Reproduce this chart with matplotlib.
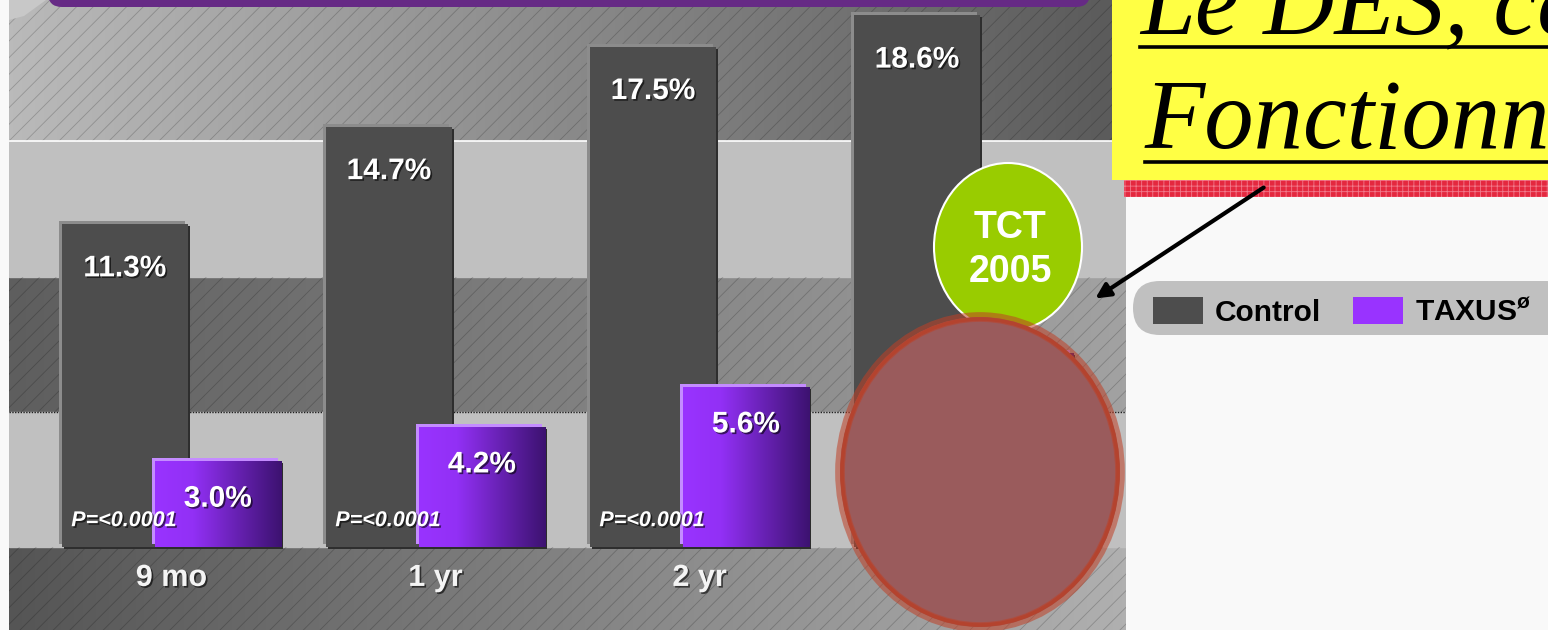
import numpy as np
import matplotlib.pyplot as plt
import matplotlib.patheffects as pe
import matplotlib.transforms as mtransforms
from matplotlib.patches import Rectangle, Ellipse, FancyBboxPatch, Polygon, Patch
from matplotlib.colors import LinearSegmentedColormap

plt.rcParams['font.family'] = ['Liberation Sans', 'DejaVu Sans']
plt.rcParams['hatch.linewidth'] = 0.6
plt.rcParams['mathtext.fontset'] = 'custom'
plt.rcParams['mathtext.rm'] = 'Liberation Sans:bold'
plt.rcParams['mathtext.bf'] = 'Liberation Sans:bold'
plt.rcParams['mathtext.default'] = 'rm'

# data
categories = ['9 mo', '1 yr', '2 yr', '3 yr']
control = [11.3, 14.7, 17.5, 18.6]
taxus = [3.0, 4.2, 5.6, 6.8]
p_values = ['P=<0.0001', 'P=<0.0001', 'P=<0.0001', 'P=<0.0001']
series_names = ['Control', 'TAXUS$^{ø}$']

W, H = 1548, 630
fig = plt.figure(figsize=(W / 100, H / 100), dpi=100, facecolor='#f9f9f9')
ax = fig.add_axes([9 / W, 0, (1126 - 9) / W, 1])
ax.set_axis_off()

x = np.arange(len(categories))
width = 0.48
shift = 0.176
xlim = (-0.615, 3.615)
ylim = (-2.9, 19.13)
step = 4.73


def band(y0, y1, c0, c1):
    cmap = LinearSegmentedColormap.from_list('band', [c0, c1])
    ax.imshow(np.linspace(0, 1, 256)[None, :], extent=(xlim[0], xlim[1], y0, y1),
              aspect='auto', cmap=cmap, zorder=0)
    ax.add_patch(Rectangle((xlim[0], y0), xlim[1] - xlim[0], y1 - y0, facecolor='none',
                           edgecolor=(0, 0, 0, 0.2), lw=0, hatch='//', zorder=0.5))


# background bands
band(3 * step, ylim[1], '#bababa', '#5a5a5a')
band(step, 2 * step, '#5e5e5e', '#a2a2a2')
band(ylim[0], 0, '#555555', '#b0b0b0')
ax.axhspan(2 * step, 3 * step, color='#c0c0c0', zorder=0)
ax.axhspan(0, step, color='#c0c0c0', zorder=0)
ax.axhline(3 * step, color='white', lw=1.2, zorder=0.6)
ax.axhline(step, color='#202020', lw=1, ls=(0, (1, 1)), zorder=0.6)


def offset(dx, dy):
    return mtransforms.ScaledTranslation(dx / 100, dy / 100, fig.dpi_scale_trans)


def layered_bars(pos, vals, hi, face, shade, z):
    sh = ax.bar(pos, vals, width, color=shade, zorder=z)
    for p in sh:
        p.set_transform(ax.transData + offset(2, -2))
    hl = ax.bar(pos, vals, width, color=hi, zorder=z + 0.1)
    for p in hl:
        p.set_transform(ax.transData + offset(-3, 3))
    return ax.bar(pos, vals, width, color=face, zorder=z + 0.2)


layered_bars(x - shift, control, '#8c8c8c', '#4d4d4d', '#2e2e2e', 2)
purple = layered_bars(x + shift, taxus, '#c48cff', '#9933ff', '#2c2c2c', 3)

purple_cmap = LinearSegmentedColormap.from_list(
    'taxus', [(0, '#9933ff'), (0.3, '#9230f5'), (1, '#3c1270')])
for p, xi, v in zip(purple, x + shift, taxus):
    im = ax.imshow(np.linspace(0, 1, 256)[None, :],
                   extent=(xi - width / 2, xi + width / 2, 0, v),
                   aspect='auto', cmap=purple_cmap, zorder=3.25)
    im.set_clip_path(p)

shadow = [pe.SimplePatchShadow(offset=(1.2, -1.2), shadow_rgbFace='black', alpha=0.6), pe.Normal()]

for xi, v in zip(x - shift, control):
    ax.annotate(f'{v:.1f}%', (xi, v), xytext=(0, -32), textcoords='offset points',
                ha='center', va='center', color='white', fontsize=21.5,
                fontweight='bold', path_effects=shadow, zorder=6)
for xi, v in zip(x + shift, taxus):
    ax.annotate(f'{v:.1f}%', (xi, v), xytext=(0, -27), textcoords='offset points',
                ha='center', va='center', color='white', fontsize=21.5,
                fontweight='bold', path_effects=shadow, zorder=6)
for xi, p in zip(x - shift, p_values):
    ax.annotate(p, (xi - width / 2, 0), xytext=(7, 19), textcoords='offset points',
                ha='left', va='center', color='white', fontsize=15.5,
                fontweight='bold', style='italic', path_effects=shadow, zorder=6)
for xi, c in zip(x, categories):
    ax.text(xi, -1.08, c, ha='center', va='center', color='#f4f4f4', fontsize=22,
            fontweight='bold', path_effects=shadow, zorder=6)

ax.set_xlim(*xlim)
ax.set_ylim(*ylim)

# slide decorations in pixel coordinates
ov = fig.add_axes([0, 0, 1, 1], zorder=2)
ov.set_xlim(0, W)
ov.set_ylim(H, 0)
ov.set_axis_off()
ov.patch.set_alpha(0)

ov.add_patch(Polygon([(9, 0), (46, 0), (24, 16), (9, 20)], closed=True,
                     facecolor='#c8c8c8', edgecolor='none'))
ov.add_patch(FancyBboxPatch((48, -20), 1042, 27, boxstyle='round,pad=0,rounding_size=14',
                            facecolor='#662a85', edgecolor='none'))

ov.add_patch(Rectangle((1112, 0), W - 1112, 180, facecolor='#ffff44', edgecolor='none', zorder=1))
ov.add_patch(Rectangle((1124, 180), W - 1124, 17, facecolor='#e4283f', edgecolor='#f27a8c',
                       lw=0, hatch='+++', zorder=1))
ov.text(1140, 33, 'Le DES, cela', fontfamily='Liberation Serif', style='italic',
        fontsize=71, va='baseline', ha='left', color='black', zorder=2)
ov.text(1145, 148, 'Fonctionne !', fontfamily='Liberation Serif', style='italic',
        fontsize=71, va='baseline', ha='left', color='black', zorder=2)
ov.plot([1140, W], [47, 47], color='black', lw=2.6, zorder=2)
ov.plot([1145, W], [162, 162], color='black', lw=2.6, zorder=2)

# legend pill
ov.add_patch(FancyBboxPatch((1133, 281), 440, 54, boxstyle='round,pad=0,rounding_size=27',
                            facecolor='#c0c0c0', edgecolor='none', zorder=1))
handles = [Patch(facecolor='#4d4d4d'), Patch(facecolor='#9933ff')]
leg = fig.legend(handles, series_names, loc='center left',
                 bbox_to_anchor=(1153 / W, 1 - 312 / H), frameon=False, ncol=2,
                 prop={'weight': 'bold', 'size': 21.5}, handlelength=1.68,
                 handleheight=1.0, handletextpad=0.4, columnspacing=1.05,
                 borderpad=0, borderaxespad=0)
leg.set_zorder(10)

ov.annotate('', xy=(1093, 300), xytext=(1266, 186),
            arrowprops=dict(arrowstyle='-|>', lw=3, color='black', mutation_scale=22),
            zorder=3)

ov.add_patch(Ellipse((1008, 247), 148, 168, facecolor='#99cc00', edgecolor='white',
                     lw=1.5, zorder=4))
ov.text(1010, 250, 'TCT\n2005', ha='center', va='center', color='white', fontsize=27,
        fontweight='bold', linespacing=1.28, zorder=4.5)

ov.add_patch(Ellipse((980, 472), 280, 310, facecolor='#9a5b5c',
                     edgecolor=(0.75, 0.25, 0.15, 0.55), lw=7, zorder=5))
ov.add_patch(Ellipse((980, 472), 276, 306, facecolor='none',
                     edgecolor='#b4432e', lw=2.5, zorder=5.1))

fig.savefig('out.png', dpi=100, facecolor=fig.get_facecolor())
